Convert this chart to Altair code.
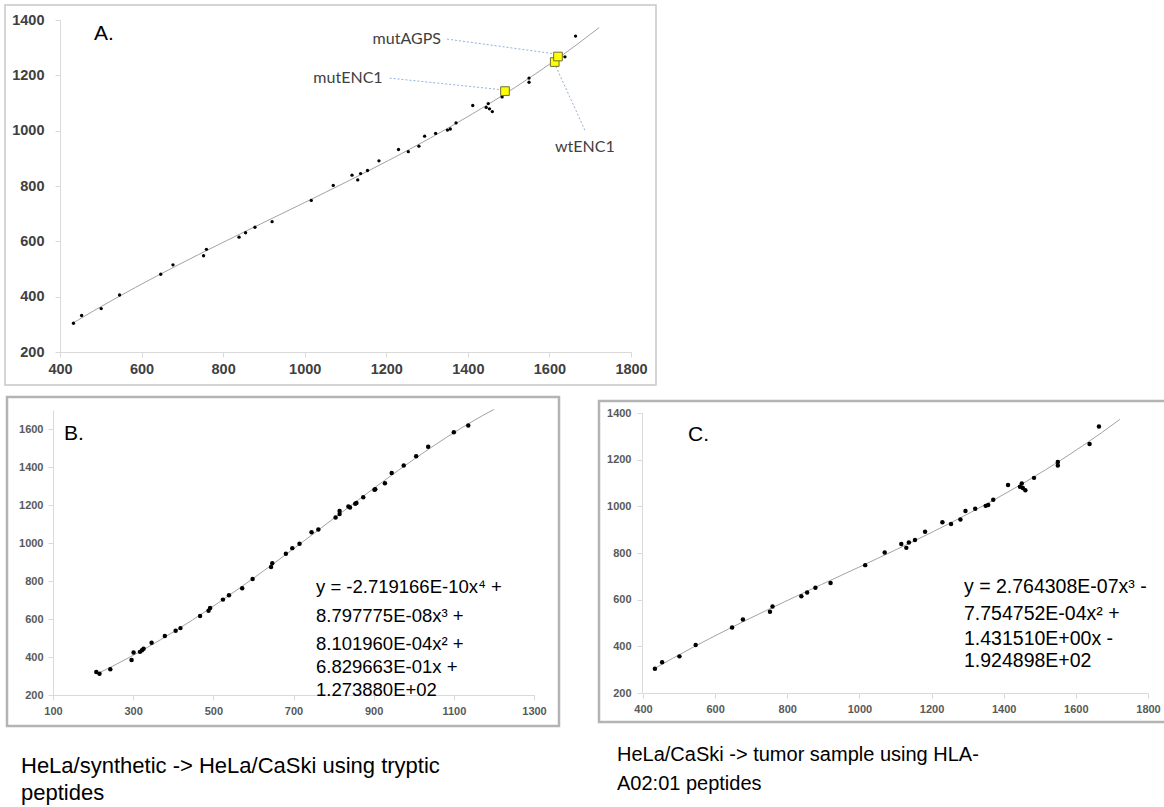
import altair as alt
import pandas as pd

# ---------------- data ----------------
# Panels A and C: same HLA-A02:01 peptides (x = HeLa/CaSki, y = tumor sample)
ac_x = [433, 453, 501, 546, 647, 677, 752, 759, 839, 855, 878, 920, 1016, 1070, 1116, 1130,
        1137, 1154, 1182, 1230, 1254, 1280, 1294, 1321, 1350, 1357, 1371, 1412, 1445, 1450,
        1453, 1460, 1484, 1550, 1550, 1638, 1664]
ac_y = [304, 332, 357, 406, 481, 515, 548, 571, 615, 631, 651, 671, 748, 802, 839, 822,
        845, 856, 891, 932, 924, 944, 980, 990, 1002, 1006, 1028, 1091, 1084, 1098,
        1079, 1069, 1122, 1190, 1175, 1267, 1342]

# highlighted peptides in panel A
hl_name = ["mutENC1", "wtENC1", "mutAGPS"]
hl_x = [1491, 1613, 1621]
hl_y = [1143, 1248, 1268]

# annotation labels and leader lines (data coordinates of panel A)
lab_name = ["mutAGPS", "mutENC1", "wtENC1"]
lab_x = [1334, 1191, 1687]
lab_y = [1331, 1190, 942]
lead_x = [1349, 1208, 1687]
lead_y = [1331, 1190, 1002]
lead_x2 = [1617, 1476, 1613]
lead_y2 = [1277, 1149, 1241]

# Panel B: tryptic peptides
b_x = [208, 216, 243, 296, 301, 317, 322, 326, 346, 379, 406, 418, 467, 488, 492, 524, 539,
       572, 598, 644, 647, 681, 697, 715, 745, 762, 805, 815, 815, 837, 841, 854, 857, 874,
       902, 904, 928, 945, 975, 1006, 1036, 1100, 1136]
b_y = [321, 312, 335, 384, 424, 427, 436, 443, 475, 510, 538, 552, 616, 643, 658, 702, 725,
       762, 811, 874, 893, 944, 973, 996, 1056, 1071, 1134, 1152, 1168, 1192, 1187, 1206, 1210,
       1241, 1280, 1283, 1315, 1369, 1408, 1456, 1506, 1583, 1619]

ac_ticks = [400, 600, 800, 1000, 1200, 1400, 1600, 1800]
ac_yticks = [200, 400, 600, 800, 1000, 1200, 1400]
b_ticks = [100, 300, 500, 700, 900, 1100, 1300]
b_yticks = [200, 400, 600, 800, 1000, 1200, 1400, 1600]

eq_b = ["y = -2.719166E-10x\u2074 +", "8.797775E-08x\u00b3 +", "8.101960E-04x\u00b2 +",
        "6.829663E-01x +", "1.273880E+02"]
eq_c = ["y = 2.764308E-07x\u00b3 -", "7.754752E-04x\u00b2 +", "1.431510E+00x -", "1.924898E+02"]
cap_b = ["HeLa/synthetic -> HeLa/CaSki using tryptic", "peptides"]
cap_c = ["HeLa/CaSki -> tumor sample using HLA-", "A02:01 peptides"]

# ---------------- layout (pixels) ----------------
W, H = 1164, 807
PANELS = {
    "A": dict(xd=[400, 1800], xr=[60, 631], yd=[200, 1400], yr=[352, 20]),
    "B": dict(xd=[100, 1300], xr=[53, 534], yd=[200, 1700], yr=[695, 410]),
    "C": dict(xd=[400, 1800], xr=[643, 1148], yd=[200, 1400], yr=[693, 413]),
}

CAL = "Lato"
ARIAL = "Liberation Sans"
TREND = "#a3a3a3"

df_ac = pd.DataFrame({"x": ac_x, "y": ac_y})
df_b = pd.DataFrame({"x": b_x, "y": b_y})
df_hl = pd.DataFrame({"name": hl_name, "x": hl_x, "y": hl_y})
df_lab = pd.DataFrame({"name": lab_name, "x": lab_x, "y": lab_y})
df_lead = pd.DataFrame({"x": lead_x, "y": lead_y, "x2": lead_x2, "y2": lead_y2})
one = pd.DataFrame({"k": [0]})


def xs(p):
    d = PANELS[p]
    return alt.Scale(domain=d["xd"], range=d["xr"], nice=False, zero=False)


def ys(p):
    d = PANELS[p]
    return alt.Scale(domain=d["yd"], range=d["yr"], nice=False, zero=False)


def axis(orient, values, offset, size, color, pad):
    return alt.Axis(orient=orient, values=values, offset=offset, format="d", grid=False,
                    domainColor="#d9d9d9", domainWidth=1, tickColor="#d9d9d9", tickSize=5,
                    labelFont=ARIAL, labelFontSize=size, labelFontWeight="bold",
                    labelColor=color, labelPadding=pad, labelOverlap=False,
                    labelFlush=False, title="")


def XY(p, xaxis=None, yaxis=None):
    return dict(x=alt.X("x:Q", scale=xs(p), axis=xaxis),
                y=alt.Y("y:Q", scale=ys(p), axis=yaxis))


layers = []

# panel frames
frames = [(5, 656, 5, 385, "#c8c8c8", 1.5), (7, 559, 397, 726, "#b4b4b4", 2.5),
          (599, 1175, 401, 722, "#b4b4b4", 2.5)]
for x1, x2, y1, y2, col, sw in frames:
    layers.append(alt.Chart(one).mark_rect(fillOpacity=0, stroke=col, strokeWidth=sw).encode(
        x=alt.value(x1), x2=alt.value(x2), y=alt.value(y1), y2=alt.value(y2)))

# ---- Panel A ----
layers.append(alt.Chart(df_ac).transform_regression(
    "x", "y", method="poly", order=3, extent=[430, 1722]).mark_line(
    color=TREND, strokeWidth=1).encode(**XY("A")))
layers.append(alt.Chart(df_ac).mark_circle(size=11, color="black", opacity=1).encode(
    **XY("A", axis("bottom", ac_ticks, 352 - H, 14.5, "#404040", 5),
         axis("left", ac_yticks, -60, 14.5, "#404040", 11))))
layers.append(alt.Chart(df_lead).mark_rule(color="#8db3e2", strokeWidth=1, strokeDash=[2, 2]).encode(
    x=alt.X("x:Q", scale=xs("A"), axis=None), y=alt.Y("y:Q", scale=ys("A"), axis=None),
    x2="x2:Q", y2="y2:Q"))
layers.append(alt.Chart(df_hl).mark_square(size=75, fill="#ffff00", stroke="#6e6e3a",
                                           strokeWidth=1, opacity=1).encode(**XY("A")))
for name, al in [("mutAGPS", "right"), ("mutENC1", "right"), ("wtENC1", "center")]:
    layers.append(alt.Chart(df_lab[df_lab["name"] == name]).mark_text(
        align=al, baseline="middle", font=CAL, fontSize=16, color="#404040").encode(
        text="name:N", **XY("A")))

# ---- Panel B ----
layers.append(alt.Chart(df_b).transform_regression(
    "x", "y", method="poly", order=4, extent=[210, 1200]).mark_line(
    color=TREND, strokeWidth=1).encode(**XY("B")))
layers.append(alt.Chart(df_b).mark_circle(size=20, color="black", opacity=1).encode(
    **XY("B", axis("bottom", b_ticks, 695 - H, 11, "#595959", 5),
         axis("left", b_yticks, -53, 11, "#595959", 5))))

# ---- Panel C ----
layers.append(alt.Chart(df_ac).transform_regression(
    "x", "y", method="poly", order=3, extent=[430, 1722]).mark_line(
    color=TREND, strokeWidth=1).encode(**XY("C")))
layers.append(alt.Chart(df_ac).mark_circle(size=20, color="black", opacity=1).encode(
    **XY("C", axis("bottom", ac_ticks, 693 - H, 11, "#595959", 5),
         axis("left", ac_yticks, -642, 11, "#595959", 6))))


def text_layer(t, x, y, size, font=ARIAL, color="black", weight="normal"):
    return alt.Chart(pd.DataFrame({"t": [t]})).mark_text(
        align="left", baseline="alphabetic", font=font, fontSize=size, color=color,
        fontWeight=weight).encode(text="t:N", x=alt.value(x), y=alt.value(y))


# panel letters
layers.append(text_layer("A.", 94, 40, 21))
layers.append(text_layer("B.", 64, 440, 21))
layers.append(text_layer("C.", 688, 441, 21))

# equations
for t, yy in zip(eq_b, [593, 622, 650, 673, 696]):
    layers.append(text_layer(t, 316, yy, 18.5))
for t, yy in zip(eq_c, [593, 620, 645, 667]):
    layers.append(text_layer(t, 964, yy, 19.5))

# captions
for t, yy in zip(cap_b, [773, 800]):
    layers.append(text_layer(t, 21, yy, 22))
for t, yy in zip(cap_c, [761, 790]):
    layers.append(text_layer(t, 617, yy, 20))

chart = alt.layer(*layers).resolve_scale(
    x="independent", y="independent").resolve_axis(
    x="independent", y="independent").properties(
    width=W, height=H, padding=0, background="white",
    autosize=alt.AutoSizeParams(type="none")).configure_view(stroke="transparent")

chart.save("out.html", embed_options={"renderer": "svg", "actions": False})
